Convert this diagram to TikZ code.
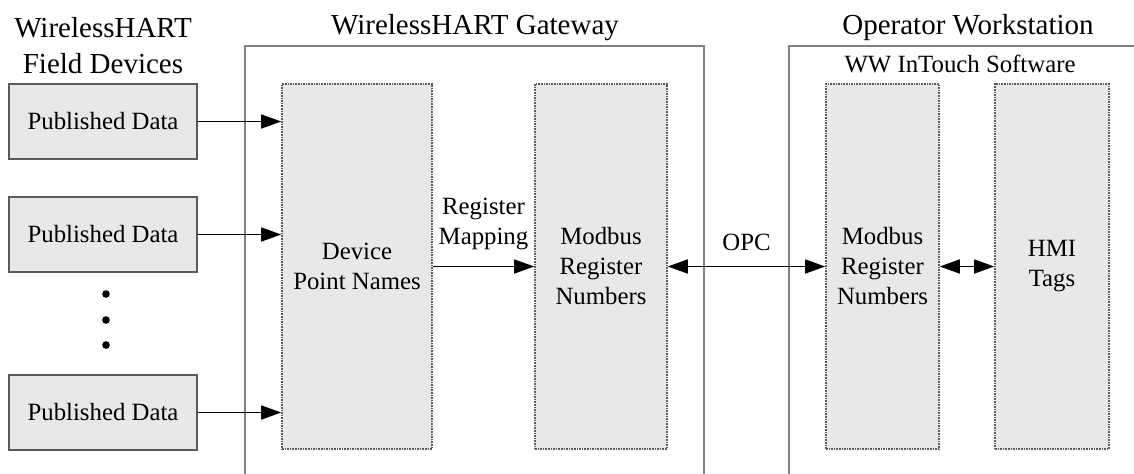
\documentclass[tikz,border=0pt]{standalone}
\usepackage{fontspec}
\setmainfont{Liberation Serif}
\usetikzlibrary{arrows.meta}
\definecolor{boxfill}{HTML}{E8E8E8}
\definecolor{edgegray}{HTML}{5A5A5A}
\definecolor{framegray}{HTML}{808080}
\tikzset{
  body/.style={font=\fontsize{12.4}{15}\selectfont, align=center},
  title/.style={font=\fontsize{14.5}{18}\selectfont, align=center},
  pubbox/.style={body, draw=edgegray, line width=0.9pt, fill=boxfill, minimum width=94pt, minimum height=37.5pt, inner sep=0pt},
  dotbox/.style={body, draw=edgegray, line width=0.8pt, dash pattern=on 0.8pt off 0.5pt, fill=boxfill, minimum height=182.5pt, inner sep=0pt},
  frame/.style={draw=framegray, line width=1pt},
  conn/.style={draw=black, line width=0.7pt, -{Triangle[length=10pt,width=7pt]}},
  biconn/.style={draw=black, line width=0.7pt, {Triangle[length=10pt,width=7pt]}-{Triangle[length=10pt,width=7pt]}},
  dotmark/.style={circle, fill=black, inner sep=0pt, minimum size=3.8pt}
}
\begin{document}
\begin{tikzpicture}[x=0.5pt,y=-0.5pt]
\useasboundingbox (0,0) rectangle (1134,473);
% frames
\draw[frame] (245,480) -- (245,46) -- (704,46) -- (704,480);
\draw[frame] (789,480) -- (789,46) -- (1140,46);
% titles
\node[title] (tfd) at (103,46) {WirelessHART\\Field Devices};
\node[title] (tgw) at (475,28) {WirelessHART Gateway};
\node[title] (tow) at (968,28) {Operator Workstation};
\node[body] (tww) at (960,64) {WW InTouch Software};
% published data
\node[pubbox] (p1) at (103,121.5) {Published Data};
\node[pubbox] (p2) at (103,234.5) {Published Data};
\node[pubbox] (p3) at (103,412.5) {Published Data};
\node[dotmark] (d1) at (106,294) {};
\node[dotmark] (d2) at (106,320) {};
\node[dotmark] (d3) at (106,345) {};
% dotted boxes
\node[dotbox, minimum width=75pt] (dev) at (357,266.5) {Device\\Point Names};
\node[dotbox, minimum width=66pt] (mgw) at (601,266.5) {Modbus\\Register\\Numbers};
\node[dotbox, minimum width=56.5pt] (mop) at (882.5,266.5) {Modbus\\Register\\Numbers};
\node[dotbox, minimum width=57pt] (hmi) at (1052,266.5) {HMI\\Tags};
% connectors
\draw[conn] (p1.east) -- (p1.east -| dev.west);
\draw[conn] (p2.east) -- (p2.east -| dev.west);
\draw[conn] (p3.east) -- (p3.east -| dev.west);
\draw[conn] (dev.east) -- node[body, above=4.5pt] (rm) {Register\\Mapping} (mgw.west);
\draw[biconn] (mgw.east) -- node[body, above=4pt] (opc) {OPC} (mop.west);
\draw[biconn] (mop.east) -- (hmi.west);
\end{tikzpicture}
\end{document}
